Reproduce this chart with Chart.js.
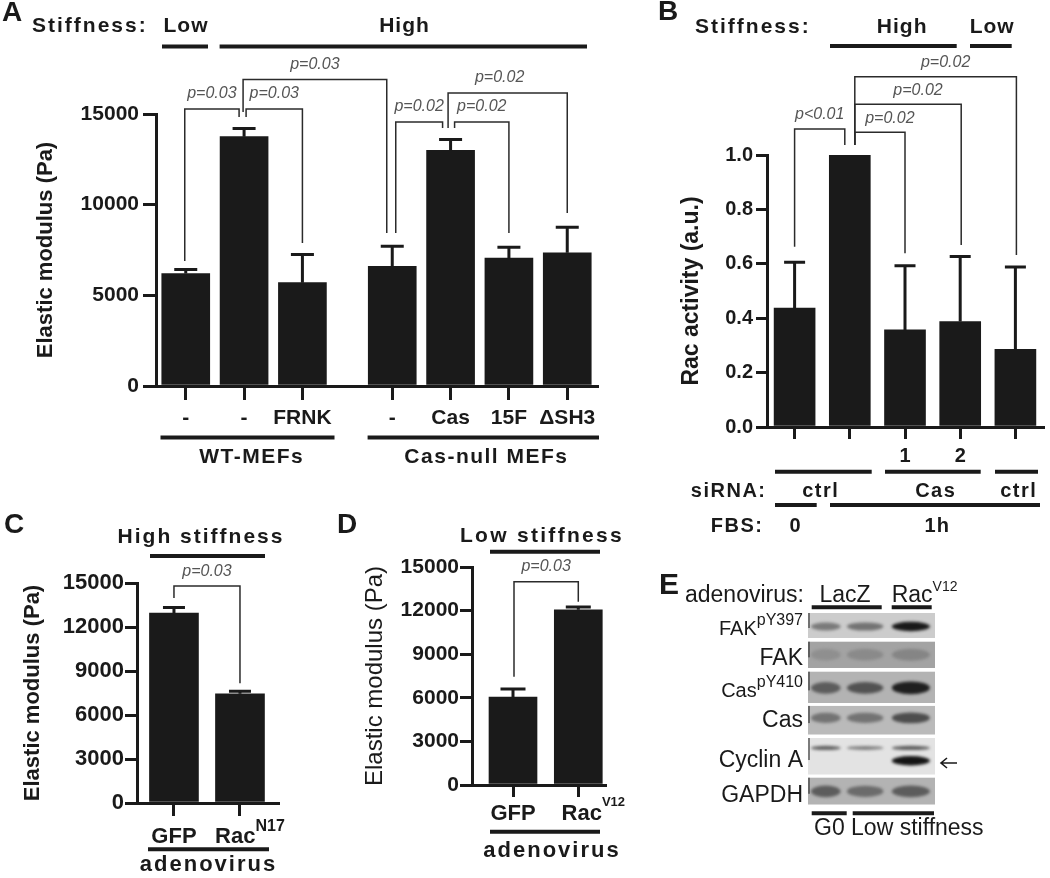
<!DOCTYPE html>
<html><head><meta charset="utf-8">
<script src="https://cdn.jsdelivr.net/npm/chart.js@4.4.1/dist/chart.umd.min.js"></script>
<style>
html,body{margin:0;padding:0;background:#fff;}
#wrap{position:relative;width:1050px;height:878px;overflow:hidden;background:#fff;}
#wrap canvas{position:absolute;left:0;top:0;}
</style></head><body>
<div id="wrap">
<canvas id="cA" width="1050" height="878"></canvas>
<canvas id="cB" width="1050" height="878"></canvas>
<canvas id="cC" width="1050" height="878"></canvas>
<canvas id="cD" width="1050" height="878"></canvas>
<canvas id="cE" width="1050" height="878"></canvas>
</div>
<script>
// ---------------- DATA ----------------
// Panel A
const catsA = ['-', '-', 'FRNK', '-', 'Cas', '15F', 'ΔSH3'];
const valsA = [6200, 13750, 5700, 6600, 13000, 7050, 7350];
const errsA = [230, 450, 1550, 1100, 600, 600, 1400];
const yTicksA = [0, 5000, 10000, 15000];
const groupsA = ['WT-MEFs', 'Cas-null MEFs'];
const stiffA = ['Low', 'High'];
const pairsA = [[0,1],[1,2],[1,3],[3,4],[4,5],[4,6]];
const pA = ['p=0.03','p=0.03','p=0.03','p=0.02','p=0.02','p=0.02'];
// Panel B
const catsB = ['', '', '1', '2', ''];
const valsB = [0.437, 1.0, 0.357, 0.388, 0.286];
const errsB = [0.169, 0, 0.236, 0.239, 0.302];
const yTicksB = [0, 0.2, 0.4, 0.6, 0.8, 1.0];
const stiffB = ['High', 'Low'];
const sirnaB = ['ctrl', 'Cas', 'ctrl'];
const fbsB = ['0', '1h'];
const pairsB = [[0,1],[1,2],[1,3],[1,4]];
const pB = ['p<0.01','p=0.02','p=0.02','p=0.02'];
// Panel C
const catsC = ['GFP', 'Rac'];
const supC = ['', 'N17'];
const valsC = [12950, 7450];
const errsC = [380, 170];
const pC = ['p=0.03'];
// Panel D
const catsD = ['GFP', 'Rac'];
const supD = ['', 'V12'];
const valsD = [6050, 12050];
const errsD = [550, 200];
const pD = ['p=0.03'];
const yTicksCD = [0, 3000, 6000, 9000, 12000, 15000];
// Panel E (blot, band darkness 0..1 per lane)
const blotLabels = ['FAK', 'FAK', 'Cas', 'Cas', 'Cyclin A', 'GAPDH'];
const blotSups = ['pY397', '', 'pY410', '', '', ''];
const blotBg = [0.20, 0.36, 0.30, 0.27, 0.11, 0.30];
const blotBands = [[0.52,0.55,0.90],[0.44,0.46,0.48],[0.64,0.68,0.88],[0.55,0.55,0.70],[0.62,0.50,0.64],[0.64,0.58,0.64]];
const cyclinLower = [0, 0, 0.92];
const laneGroups = ['LacZ', 'Rac'];

// ---------------- STYLE / LAYOUT ----------------
const F = '"Liberation Sans", Arial, Helvetica, sans-serif';
const INK = '#1a1a1a';
const BAR = '#1a1a1a';
Chart.defaults.font.family = F;

function T(ctx, s, x, y, f, align, ls, color){
  ctx.save();
  ctx.font = f; ctx.fillStyle = color || INK;
  const a = align || 'center';
  ctx.textAlign = a; ctx.textBaseline = 'alphabetic';
  let dx = 0;
  if (ls) { ctx.letterSpacing = ls + 'px'; dx = a === 'center' ? ls/2 : (a === 'right' ? ls : 0); }
  ctx.fillText(s, x + dx, y);
  ctx.restore();
}
function TS(ctx, base, sup, x, y, fb, fs, align, supDy){
  ctx.save();
  ctx.font = fb; const wb = ctx.measureText(base).width;
  ctx.font = fs; const ws = sup ? ctx.measureText(sup).width : 0;
  const tot = wb + ws;
  const x0 = align === 'left' ? x : (align === 'right' ? x - tot : x - tot/2);
  ctx.fillStyle = INK; ctx.textAlign = 'left'; ctx.textBaseline = 'alphabetic';
  ctx.font = fb; ctx.fillText(base, x0, y);
  if (sup) { ctx.font = fs; ctx.fillText(sup, x0 + wb, y + supDy); }
  ctx.restore();
}
function L(ctx, x1, y1, x2, y2, w, color){
  ctx.save(); ctx.strokeStyle = color || INK; ctx.lineWidth = w || 4; ctx.lineCap = 'butt';
  ctx.beginPath(); ctx.moveTo(x1, y1); ctx.lineTo(x2, y2); ctx.stroke(); ctx.restore();
}
function bracket(ctx, chart, pair, lay, label, lblDy){
  const m = chart.getDatasetMeta(0).data;
  const xl = m[pair[0]].x + lay.da, xr = m[pair[1]].x + lay.db;
  ctx.save(); ctx.strokeStyle = '#2b2b2b'; ctx.lineWidth = 1.5;
  ctx.beginPath(); ctx.moveTo(xl, lay.lb); ctx.lineTo(xl, lay.top); ctx.lineTo(xr, lay.top); ctx.lineTo(xr, lay.rb); ctx.stroke();
  ctx.restore();
  ctx.save(); ctx.font = 'italic 16px ' + F; ctx.fillStyle = '#555'; ctx.textAlign = 'center'; ctx.textBaseline = 'middle';
  ctx.fillText(label, (xl + xr)/2 + (lay.dx || 0), lay.top + lblDy);
  ctx.restore();
}

const errorBars = {
  id: 'errorBars',
  afterDatasetsDraw(chart, args, opts){
    const errs = opts.errors; if (!errs) return;
    const meta = chart.getDatasetMeta(0), ys = chart.scales.y, ctx = chart.ctx;
    ctx.save(); ctx.strokeStyle = INK; ctx.lineWidth = 3;
    meta.data.forEach((bar, i) => {
      if (!errs[i]) return;
      const d = chart.data.datasets[0].data[i];
      const yTop = ys.getPixelForValue(d.y + errs[i]);
      ctx.beginPath();
      ctx.moveTo(bar.x, bar.y); ctx.lineTo(bar.x, yTop);
      ctx.moveTo(bar.x - opts.cap/2, yTop); ctx.lineTo(bar.x + opts.cap/2, yTop);
      ctx.stroke();
    });
    ctx.restore();
  }
};

function makeBars(id, c){
  const W = c.area.l - c.padL;
  return new Chart(document.getElementById(id), {
    type: 'bar',
    data: { datasets: [{ data: c.xs.map((x, i) => ({x: x, y: c.vals[i]})), backgroundColor: BAR, borderWidth: 0, barThickness: c.bw }] },
    options: {
      responsive: false, animation: false, events: [],
      layout: { padding: { left: c.padL, top: c.area.t, right: 1050 - c.area.r, bottom: 878 - c.area.b - c.xH } },
      plugins: { legend: {display: false}, tooltip: {enabled: false}, errorBars: { errors: c.errs, cap: c.cap } },
      scales: {
        x: {
          type: 'linear', min: c.xMin, max: c.xMax, offset: false,
          afterBuildTicks: s => { s.ticks = c.xs.map(v => ({value: v})); },
          afterFit: s => { s.height = c.xH; },
          grid: { drawOnChartArea: false, drawTicks: true, tickLength: c.xtl, lineWidth: 3, color: INK, offset: false },
          border: { display: true, width: 3, color: INK },
          ticks: { display: c.showX, autoSkip: false, maxRotation: 0, minRotation: 0, padding: c.xpad, color: INK,
                   font: c.xFont, callback: (v, i) => c.cats[i] }
        },
        y: {
          type: 'linear', min: c.yMin, max: c.yMax,
          afterBuildTicks: s => { s.ticks = c.yTicks.map(v => ({value: v})); },
          afterFit: s => { s.width = W; },
          grid: { drawOnChartArea: false, drawTicks: true, tickLength: c.tl, lineWidth: 3, color: INK },
          border: { display: true, width: 3, color: INK },
          ticks: { padding: c.tpad, color: INK, font: c.tickFont, callback: c.yFmt },
          title: { display: true, text: c.title, color: INK, font: c.titleFont, padding: { top: c.titlePT, bottom: 0 } }
        }
      }
    },
    plugins: [errorBars, { id: 'anno', afterDraw(chart){ c.draw(chart, chart.ctx); } }]
  });
}

// ---------------- PANEL A ----------------
const layA = [
  {da:-1, db:-5, top:109, lb:261, rb:117},
  {da:2, db:0, top:109, lb:117, rb:243},
  {da:-1, db:-5.5, top:79.5, lb:112, rb:233},
  {da:3.5, db:-8, top:122, lb:233, rb:128},
  {da:4, db:0, top:122, lb:128, rb:233},
  {da:-2.5, db:0, top:93, lb:128, rb:213, dx:-8}
];
function drawA(chart, ctx){
  T(ctx, 'A', 2, 21, 'bold 28px ' + F, 'left');
  T(ctx, 'Stiffness:', 32, 32, 'bold 21px ' + F, 'left', 2);
  T(ctx, stiffA[0], 185.5, 32, 'bold 21px ' + F, 'center', 1);
  T(ctx, stiffA[1], 404, 32, 'bold 21px ' + F, 'center', 1);
  L(ctx, 162, 46.5, 208, 46.5); L(ctx, 219.6, 46.5, 587, 46.5);
  pairsA.forEach((p, i) => bracket(ctx, chart, p, layA[i], pA[i], -15));
  L(ctx, 160.5, 437.6, 334.5, 437.6); L(ctx, 367.6, 437.6, 599, 437.6);
  T(ctx, groupsA[0], 251, 463, 'bold 21px ' + F, 'center', 1.5);
  T(ctx, groupsA[1], 485.7, 463, 'bold 21px ' + F, 'center', 1.5);
}
makeBars('cA', {
  cats: catsA, vals: valsA, errs: errsA,
  xs: catsA.map((c, i) => i + (i >= 3 ? 0.54 : 0)), xMin: -0.51, xMax: 7.05,
  yMin: 0, yMax: 15000, yTicks: yTicksA, yFmt: v => String(v),
  area: {l:156, t:114, r:597, b:386}, padL: 10, xH: 44,
  tickFont: {size: 21, weight: 'bold'}, tl: 13, tpad: 4,
  xtl: 14, xpad: 6, xFont: {size: 21, weight: 'bold'}, showX: true,
  title: 'Elastic modulus (Pa)', titleFont: {size: 22, weight: 'bold'}, titlePT: 22.3,
  bw: 48, cap: 23, draw: drawA
});

// ---------------- PANEL B ----------------
const layB = [
  {da:0, db:-5, top:129, lb:246.7, rb:145},
  {da:5, db:0, top:132.3, lb:145, rb:253.3, dx:10},
  {da:5, db:1, top:104.3, lb:145, rb:245, dx:10},
  {da:5, db:1, top:76.7, lb:145, rb:255, dx:10}
];
function drawB(chart, ctx){
  T(ctx, 'B', 658, 20, 'bold 28px ' + F, 'left');
  T(ctx, 'Stiffness:', 695, 33, 'bold 21px ' + F, 'left', 2);
  T(ctx, stiffB[0], 901.7, 33, 'bold 21px ' + F, 'center', 1);
  T(ctx, stiffB[1], 991.7, 33, 'bold 21px ' + F, 'center', 1);
  L(ctx, 830, 46, 956.7, 46); L(ctx, 970, 46, 1011.7, 46);
  pairsB.forEach((p, i) => bracket(ctx, chart, p, layB[i], pB[i], -14));
  L(ctx, 775, 471.7, 871.7, 471.7); L(ctx, 885, 471.7, 980.7, 471.7); L(ctx, 995, 471.7, 1038, 471.7);
  const f20 = 'bold 20px ' + F;
  T(ctx, 'siRNA:', 765, 497, f20, 'right', 1.5);
  T(ctx, sirnaB[0], 820, 497, f20, 'center', 1.5);
  T(ctx, sirnaB[1], 935, 497, f20, 'center', 1.5);
  T(ctx, sirnaB[2], 1018, 497, f20, 'center', 1.5);
  L(ctx, 775, 505, 816.7, 505); L(ctx, 830, 505, 1040, 505);
  T(ctx, 'FBS:', 762, 531.5, f20, 'right', 1.5);
  T(ctx, fbsB[0], 795, 531.5, f20, 'center', 1);
  T(ctx, fbsB[1], 936.7, 531.5, f20, 'center', 1);
}
makeBars('cB', {
  cats: catsB, vals: valsB, errs: errsB,
  xs: catsB.map((c, i) => i), xMin: -0.5, xMax: 4.5,
  yMin: 0, yMax: 1.0, yTicks: yTicksB, yFmt: v => v.toFixed(1),
  area: {l:767, t:155, r:1043, b:427}, padL: 650, xH: 44,
  tickFont: {size: 20, weight: 'bold'}, tl: 11, tpad: 3,
  xtl: 12, xpad: 5.5, xFont: {size: 20, weight: 'bold'}, showX: true,
  title: 'Rac activity (a.u.)', titleFont: {size: 23, weight: 'bold'}, titlePT: 28.2,
  bw: 41, cap: 21, draw: drawB
});

// ---------------- PANEL C ----------------
function drawC(chart, ctx){
  T(ctx, 'C', 4, 533, 'bold 28px ' + F, 'left');
  T(ctx, 'High stiffness', 200, 543, 'bold 21px ' + F, 'center', 2);
  L(ctx, 150, 556, 265, 556);
  bracket(ctx, chart, [0,1], {da:0, db:0, top:586, lb:598, rb:683.3}, pC[0], -14);
  const m = chart.getDatasetMeta(0).data;
  TS(ctx, catsC[0], supC[0], m[0].x, 843, 'bold 22px ' + F, 'bold 16px ' + F, 'center', -12);
  TS(ctx, catsC[1], supC[1], m[1].x + 10, 843, 'bold 22px ' + F, 'bold 16px ' + F, 'center', -12);
  L(ctx, 148, 849.3, 269, 849.3);
  T(ctx, 'adenovirus', 207.5, 870.7, 'bold 22px ' + F, 'center', 2);
}
makeBars('cC', {
  cats: catsC, vals: valsC, errs: errsC,
  xs: [0, 1], xMin: -0.56, xMax: 1.576,
  yMin: 0, yMax: 15000, yTicks: yTicksCD, yFmt: v => String(v),
  area: {l:137, t:583, r:278, b:803}, padL: 5, xH: 30,
  tickFont: {size: 22, weight: 'bold'}, tl: 12, tpad: 1,
  xtl: 13, xpad: 4, xFont: {size: 22, weight: 'bold'}, showX: false,
  title: 'Elastic modulus (Pa)', titleFont: {size: 22, weight: 'bold'}, titlePT: 14.8,
  bw: 49, cap: 22, draw: drawC
});

// ---------------- PANEL D ----------------
function drawD(chart, ctx){
  T(ctx, 'D', 337, 533, 'bold 28px ' + F, 'left');
  T(ctx, 'Low stiffness', 540.8, 541.7, 'bold 21px ' + F, 'center', 2.3);
  L(ctx, 490, 551.7, 600, 551.7);
  bracket(ctx, chart, [0,1], {da:1, db:0, top:581.7, lb:676.7, rb:601.7}, pD[0], -15);
  const m = chart.getDatasetMeta(0).data;
  TS(ctx, catsD[0], supD[0], m[0].x, 820, 'bold 22px ' + F, 'bold 13px ' + F, 'center', -14);
  TS(ctx, catsD[1], supD[1], m[1].x + 15, 820, 'bold 22px ' + F, 'bold 13px ' + F, 'center', -14);
  L(ctx, 490, 831.7, 600, 831.7);
  T(ctx, 'adenovirus', 551, 856.7, 'bold 22px ' + F, 'center', 2);
}
makeBars('cD', {
  cats: catsD, vals: valsD, errs: errsD,
  xs: [0, 1], xMin: -0.628, xMax: 1.409,
  yMin: 0, yMax: 15000, yTicks: yTicksCD, yFmt: v => String(v),
  area: {l:472, t:567, r:605, b:785}, padL: 350, xH: 30,
  tickFont: {size: 21, weight: 'bold'}, tl: 12, tpad: 1,
  xtl: 12, xpad: 4, xFont: {size: 22, weight: 'bold'}, showX: false,
  title: 'Elastic modulus (Pa)', titleFont: {size: 24, weight: 'normal'}, titlePT: 10.6,
  bw: 48, cap: 25, draw: drawD
});

// ---------------- PANEL E (blot) ----------------
const rowTop = [0, 28.4, 58.4, 92.7, 125, 164.4];
const rowH = [25, 26.6, 31.6, 29, 36.7, 27.3];
const bandY = [0.54, 0.5, 0.52, 0.42, 0.27, 0.51];
const bandH = [8, 12, 11, 10, 4, 11];
const laneX = [0.42, 1.35, 2.43];
const laneW = [0.70, 0.86, 0.90];
const labelBase = [634.5, 665, 696.7, 726.7, 766.7, 801.7];
function g(d){ const v = Math.round(255 * (1 - d)); return 'rgb(' + v + ',' + v + ',' + v + ')'; }
function drawE(chart){
  const ctx = chart.ctx, xs = chart.scales.x, ys = chart.scales.y;
  const X0 = xs.getPixelForValue(0), X1 = xs.getPixelForValue(3);
  blotLabels.forEach((lab, r) => {
    const top = ys.getPixelForValue(rowTop[r]), bot = ys.getPixelForValue(rowTop[r] + rowH[r]);
    ctx.save();
    ctx.beginPath(); ctx.rect(X0, top, X1 - X0, bot - top); ctx.clip();
    ctx.fillStyle = g(blotBg[r]); ctx.fillRect(X0, top, X1 - X0, bot - top);
    ctx.filter = 'blur(1.8px)';
    const drawBand = (i, d, fy, h) => {
      if (!d) return;
      const cx = xs.getPixelForValue(laneX[i]);
      const w = xs.getPixelForValue(laneW[i]) - X0;
      const cy = top + (bot - top) * fy;
      ctx.fillStyle = g(d);
      ctx.beginPath(); ctx.ellipse(cx, cy, w/2, h/2 * (0.8 + 0.4 * d), 0, 0, Math.PI * 2); ctx.fill();
    };
    blotBands[r].forEach((d, i) => drawBand(i, d, bandY[r], bandH[r]));
    if (r === 4) cyclinLower.forEach((d, i) => drawBand(i, d, 0.62, 8));
    ctx.filter = 'none';
    ctx.fillStyle = 'rgba(40,40,40,0.55)'; ctx.fillRect(X0, top, 2, (bot - top) * 0.6);
    ctx.restore();
    if (blotSups[r]) TS(ctx, lab, blotSups[r], 803, labelBase[r], '20px ' + F, '16px ' + F, 'right', -10);
    else TS(ctx, lab, '', 803, labelBase[r], '23px ' + F, '16px ' + F, 'right', 0);
  });
  T(ctx, 'E', 659, 594, 'bold 30px ' + F, 'left');
  T(ctx, 'adenovirus:', 685, 601.7, '23px ' + F, 'left');
  T(ctx, laneGroups[0], 845, 601.7, '23px ' + F, 'center');
  TS(ctx, laneGroups[1], 'V12', 891.7, 601.7, '23px ' + F, '14px ' + F, 'left', -11);
  L(ctx, 811.7, 607.3, 881.7, 607.3); L(ctx, 891.7, 607.3, 931.7, 607.3);
  L(ctx, 811.7, 813.3, 846.7, 813.3); L(ctx, 852.7, 813.3, 934, 813.3);
  T(ctx, 'G0 Low stiffness', 814, 835, '23px ' + F, 'left');
  ctx.save(); ctx.strokeStyle = INK; ctx.lineWidth = 1.6;
  ctx.beginPath(); ctx.moveTo(957, 763); ctx.lineTo(941, 763);
  ctx.moveTo(947, 758); ctx.lineTo(941, 763); ctx.lineTo(947, 768); ctx.stroke(); ctx.restore();
}
new Chart(document.getElementById('cE'), {
  type: 'scatter',
  data: { datasets: [] },
  options: {
    responsive: false, animation: false, events: [],
    layout: { padding: { left: 808, top: 613, right: 115, bottom: 73 } },
    plugins: { legend: {display: false}, tooltip: {enabled: false} },
    scales: {
      x: { type: 'linear', min: 0, max: 3, display: false },
      y: { type: 'linear', min: 0, max: 192, reverse: true, display: false }
    }
  },
  plugins: [{ id: 'blot', afterDraw: drawE }]
});
</script>
</body></html>
